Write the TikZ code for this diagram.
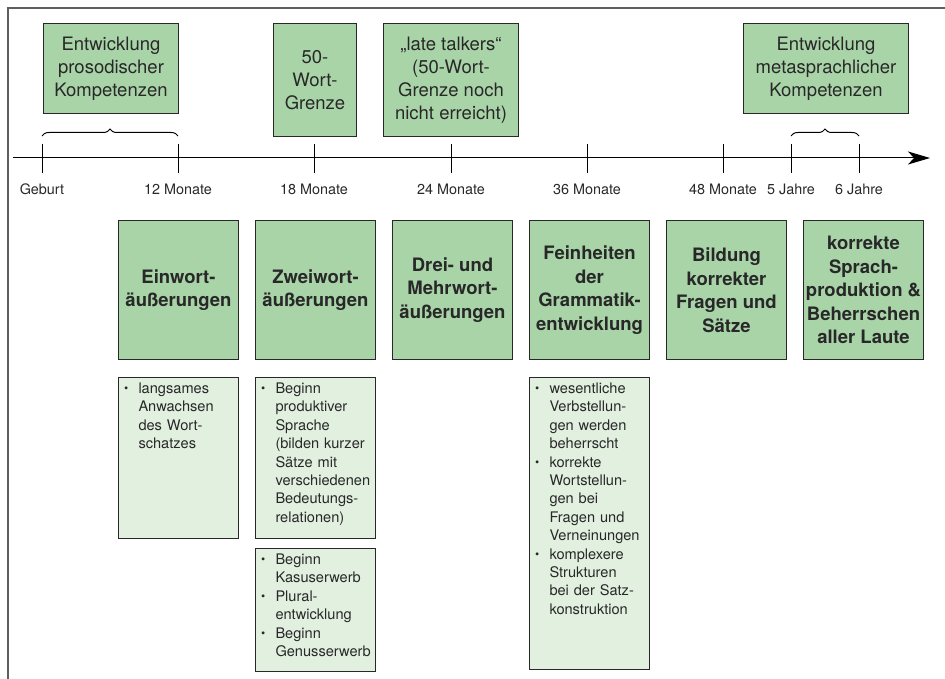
\documentclass[tikz,border=0pt]{standalone}
\usepackage{fontspec}
\setmainfont{TeX Gyre Heros}
\usetikzlibrary{arrows.meta,decorations.pathreplacing,positioning}
\definecolor{boxgreen}{RGB}{169,212,168}
\definecolor{listgreen}{RGB}{226,240,224}
\definecolor{ink}{RGB}{40,40,40}
\definecolor{rim}{RGB}{95,95,95}
\hyphenpenalty=10000
\newcommand{\bul}{\hangindent=18pt\hangafter=1\makebox[18pt][l]{\hspace{3.5pt}{\fontsize{12}{12}\selectfont\raisebox{0.6pt}{\textbullet}}}}

\begin{document}
\begin{tikzpicture}[x=1pt, y=-1pt, line width=1pt,
  topbox/.style = {draw=ink, fill=boxgreen, anchor=north west, align=center, inner sep=0pt, text=ink, font=\fontsize{18.5}{23}\selectfont},
  phase/.style = {topbox, minimum width=120pt, minimum height=139pt, font=\fontsize{18.5}{23.5}\selectfont\bfseries},
  listbox/.style = {draw=ink, fill=listgreen, anchor=north west, text=ink, inner xsep=2pt, inner ysep=4pt, text width=116pt, text height=12pt, font=\fontsize{14.6}{18.4}\selectfont},
  monat/.style = {text=ink, font=\fontsize{14.4}{16}\selectfont},
  klammer/.style = {decorate, decoration={brace, amplitude=7pt}}]
\useasboundingbox (0,0) rectangle (945,679);
\draw[rim, line width=1.5pt] (945,8) -- (8,8) -- (8,679);

% Zeitachse
\coordinate (start) at (13,158);
\coordinate (ende) at (930,158);
\draw[-{Stealth[length=22pt, width=13pt, inset=6pt]}] (start) -- (ende);
\foreach \x/\n/\t in {42/geb/Geburt, 178/m12/12 Monate, 314/m18/18 Monate, 451/m24/24 Monate,
                      587/m36/36 Monate, 723/m48/48 Monate, 791/j5/5 Jahre, 859/j6/6 Jahre} {
  \coordinate (\n) at (\x,158);
  \draw (\n) ++(0,-14) -- ++(0,29);
  \node[monat] (\n-t) at (\x,189) {\t};
}
\draw[klammer] ([yshift=22pt]geb) -- ([yshift=22pt]m12);
\draw[klammer] ([yshift=22pt]j5) -- ([yshift=22pt]j6);

% oben
\node[topbox, minimum width=135pt, minimum height=90pt] (proso) at (43,23) {Entwicklung\\prosodischer\\Kompetenzen};
\node[topbox, minimum width=83pt, minimum height=113pt] (grenze) at (273,23) {50-\\Wort-\\Grenze};
\node[topbox, minimum width=135pt, minimum height=113pt] (late) at (383,23) {„late talkers“\\(50-Wort-\\Grenze noch\\nicht erreicht)};
\node[topbox, minimum width=165pt, minimum height=90pt] (meta) at (743,23) {Entwicklung\\metasprachlicher\\Kompetenzen};

% Phasen
\node[phase] (einwort) at (118,220) {Einwort-\\äußerungen};
\node[phase, right=16pt of einwort] (zweiwort) {Zweiwort-\\äußerungen};
\node[phase, right=16pt of zweiwort] (drei) {Drei- und\\Mehrwort-\\äußerungen};
\node[phase, right=16pt of drei] (fein) {Feinheiten\\der\\Grammatik-\\entwicklung};
\node[phase, right=16pt of fein] (fragen) {Bildung\\korrekter\\Fragen und\\Sätze};
\node[phase, right=16pt of fragen] (laute) {korrekte\\Sprach-\\produktion \&\\Beherrschen\\aller Laute};

% Listen
\node[listbox, text depth=141pt] (einwort-l) at ([yshift=-17pt]einwort.south west)
  {\bul langsames\newline Anwachsen\newline des Wort-\newline schatzes\par};
\node[listbox, text depth=141pt] (zweiwort-l1) at ([yshift=-17pt]zweiwort.south west)
  {\bul Beginn\newline produktiver\newline Sprache\newline (bilden kurzer\newline Sätze mit\newline verschiedenen\newline Bedeutungs-\newline relationen)\par};
\node[listbox, text depth=103pt] (zweiwort-l2) at ([yshift=-9pt]zweiwort-l1.south west)
  {\bul Beginn\newline Kasuserwerb\par
   \bul Plural-\newline entwicklung\par
   \bul Beginn\newline Genusserwerb\par};
\node[listbox, text depth=272pt] (fein-l) at ([yshift=-17pt]fein.south west)
  {\bul wesentliche\newline Verbstellun-\newline gen werden\newline beherrscht\par
   \bul korrekte\newline Wortstellun-\newline gen bei\newline Fragen und\newline Verneinungen\par
   \bul komplexere\newline Strukturen\newline bei der Satz-\newline konstruktion\par};
\end{tikzpicture}
\end{document}
